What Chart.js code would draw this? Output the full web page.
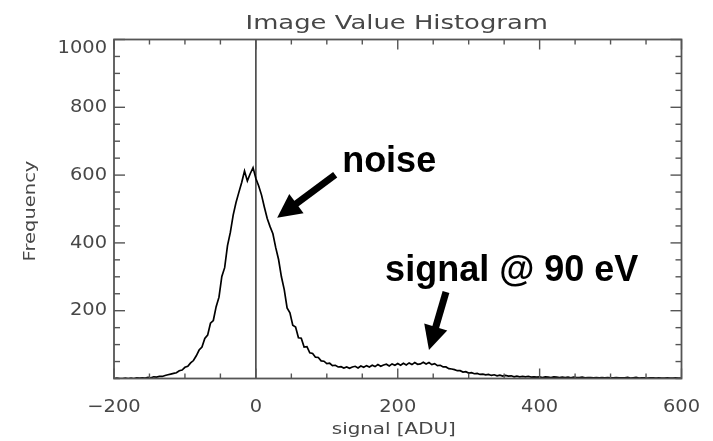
<!DOCTYPE html>
<html>
<head>
<meta charset="utf-8">
<title>Image Value Histogram</title>
<script src="https://cdn.jsdelivr.net/npm/chart.js@4.4.1/dist/chart.umd.min.js"></script>
<style>
  html, body { margin: 0; padding: 0; background: #ffffff; }
  #wrap { width: 713px; height: 441px; }
</style>
</head>
<body>
<div id="wrap"><canvas id="hist" width="713" height="441"></canvas></div>
<script>
// Histogram bins: first bin centre and bin width, in ADU
const binStart = -200;
const binWidth = 4;

// Counts per 4-ADU bin, from -200 to 600 ADU (ten bins per row)
const counts = [
  0, 1, 0, 0, 1, 0, 1, 0, 2, 1,
  2, 1, 3, 2, 5, 4, 6, 6, 9, 11,
  13, 15, 17, 23, 25, 33, 36, 46, 53, 67,
  84, 93, 118, 128, 163, 171, 212, 240, 301, 327,
  392, 431, 482, 519, 549, 578, 612, 583, 604, 622,
  590, 568, 541, 505, 472, 448, 427, 386, 351, 300,
  262, 208, 194, 157, 152, 120, 119, 93, 94, 76,
  74, 63, 62, 52, 51, 44, 45, 38, 39, 34,
  35, 31, 34, 30, 34, 36, 31, 37, 33, 38,
  34, 39, 35, 41, 36, 40, 42, 37, 43, 39,
  44, 39, 45, 40, 46, 41, 47, 42, 43, 48,
  43, 47, 41, 44, 38, 39, 34, 34, 29, 28,
  26, 23, 23, 19, 20, 16, 17, 14, 15, 12,
  13, 11, 12, 9, 11, 8, 10, 7, 9, 7,
  8, 5, 7, 5, 6, 5, 6, 4, 5, 4,
  5, 3, 5, 4, 3, 5, 4, 3, 4, 3,
  4, 2, 4, 3, 3, 4, 2, 3, 3, 2,
  3, 2, 3, 2, 3, 2, 2, 3, 2, 2,
  2, 3, 1, 2, 3, 1, 2, 2, 1, 2,
  2, 1, 2, 1, 1, 2, 1, 1, 2, 1,
  1
];

// Axis ranges and labelled ticks
const xRange = [-200, 600];
const yRange = [0, 1000];
const xTickValues = [-200, 0, 200, 400, 600];
const xTickLabels = ['\u2212200', '0', '200', '400', '600'];
const yTickValues = [200, 400, 600, 800, 1000];
const yTickLabels = ['200', '400', '600', '800', '1000'];
const minorStepX = 50;
const minorStepY = 50;

// Text
const titleText = 'Image Value Histogram';
const xTitle = 'signal [ADU]';
const yTitle = 'Frequency';

// Callouts, placed in data units (ADU, counts)
const callouts = [
  { text: 'noise', at: [121.6, 610], tail: [111.8, 601], tip: [30, 474] },
  { text: 'signal @ 90 eV', at: [182.2, 288], tail: [268, 255], tip: [244, 84] }
];

const points = counts.map((c, i) => ({ x: binStart + i * binWidth, y: c }));

const AXIS = '#555555';
const TEXT = '#474747';
const LABEL_FONT = '"DejaVu Sans", sans-serif';

function drawText(ctx, s, x, y, font, color, align, baseline, sx, rot) {
  ctx.save();
  ctx.translate(x, y);
  if (rot) ctx.rotate(rot);
  ctx.scale(sx, 1);
  ctx.font = font;
  ctx.fillStyle = color;
  ctx.textAlign = align;
  ctx.textBaseline = baseline;
  ctx.fillText(s, 0, 0);
  ctx.restore();
}

function seg(ctx, x1, y1, x2, y2) {
  ctx.beginPath();
  ctx.moveTo(x1, y1);
  ctx.lineTo(x2, y2);
  ctx.stroke();
}

function drawArrow(ctx, x1, y1, x2, y2) {
  const ang = Math.atan2(y2 - y1, x2 - x1);
  const headLen = 24, headHalf = 12;
  const bx = x2 - headLen * Math.cos(ang);
  const by = y2 - headLen * Math.sin(ang);
  ctx.save();
  ctx.strokeStyle = '#000';
  ctx.fillStyle = '#000';
  ctx.lineWidth = 7;
  ctx.lineCap = 'butt';
  seg(ctx, x1, y1, bx + 2 * Math.cos(ang), by + 2 * Math.sin(ang));
  ctx.beginPath();
  ctx.moveTo(x2, y2);
  ctx.lineTo(bx + headHalf * Math.sin(ang), by - headHalf * Math.cos(ang));
  ctx.lineTo(bx - headHalf * Math.sin(ang), by + headHalf * Math.cos(ang));
  ctx.closePath();
  ctx.fill();
  ctx.restore();
}

const framePlugin = {
  id: 'idlFrame',
  beforeDatasetsDraw(chart) {
    const { ctx, chartArea: a, scales: { x } } = chart;
    const x0 = x.getPixelForValue(0);
    ctx.save();
    ctx.strokeStyle = '#444';
    ctx.lineWidth = 1.6;
    seg(ctx, x0, a.top, x0, a.bottom);
    ctx.restore();
  },
  afterDatasetsDraw(chart) {
    const { ctx, chartArea: a, scales: { x, y } } = chart;
    ctx.save();
    ctx.strokeStyle = AXIS;
    ctx.lineWidth = 1.8;
    ctx.strokeRect(a.left, a.top, a.right - a.left, a.bottom - a.top);

    // inward ticks on all four sides
    ctx.lineWidth = 1.4;
    for (let v = xRange[0]; v <= xRange[1]; v += minorStepX) {
      const px = x.getPixelForValue(v);
      const len = xTickValues.includes(v) ? 10 : 5;
      seg(ctx, px, a.bottom, px, a.bottom - len);
      seg(ctx, px, a.top, px, a.top + len);
    }
    for (let v = yRange[0]; v <= yRange[1]; v += minorStepY) {
      const py = y.getPixelForValue(v);
      const len = yTickValues.includes(v) ? 11 : 6;
      seg(ctx, a.left, py, a.left + len, py);
      seg(ctx, a.right, py, a.right - len, py);
    }
    ctx.restore();

    // tick labels
    const tickFont = '18px ' + LABEL_FONT;
    xTickValues.forEach((v, i) => {
      drawText(ctx, xTickLabels[i], x.getPixelForValue(v), a.bottom + 33, tickFont, TEXT, 'center', 'alphabetic', 1.08);
    });
    yTickValues.forEach((v, i) => {
      const py = Math.max(y.getPixelForValue(v), a.top + 9);
      drawText(ctx, yTickLabels[i], a.left - 7, py, tickFont, TEXT, 'right', 'middle', 1.08);
    });

    // titles
    const cx = (a.left + a.right) / 2;
    drawText(ctx, titleText, cx - 1, 29, '19px ' + LABEL_FONT, TEXT, 'center', 'alphabetic', 1.36);
    drawText(ctx, xTitle, cx - 4, 434, '16px ' + LABEL_FONT, TEXT, 'center', 'alphabetic', 1.24);
    ctx.save();
    ctx.translate(35, (a.top + a.bottom) / 2 + 2);
    ctx.rotate(-Math.PI / 2);
    ctx.scale(1.22, 1);
    ctx.font = '16px ' + LABEL_FONT;
    ctx.fillStyle = TEXT;
    ctx.textAlign = 'center';
    ctx.textBaseline = 'alphabetic';
    ctx.fillText(yTitle, 0, 0);
    ctx.restore();

    // callouts
    callouts.forEach(c => {
      drawText(ctx, c.text, x.getPixelForValue(c.at[0]), y.getPixelForValue(c.at[1]),
        'bold 36px "Liberation Sans", Arial, sans-serif', '#000', 'left', 'alphabetic', 1.0);
      drawArrow(ctx, x.getPixelForValue(c.tail[0]), y.getPixelForValue(c.tail[1]),
        x.getPixelForValue(c.tip[0]), y.getPixelForValue(c.tip[1]));
    });
  }
};

new Chart(document.getElementById('hist'), {
  type: 'line',
  data: {
    datasets: [{
      label: 'counts',
      data: points,
      borderColor: '#000000',
      borderWidth: 1.7,
      borderJoinStyle: 'miter',
      pointRadius: 0,
      tension: 0,
      fill: false
    }]
  },
  options: {
    responsive: false,
    animation: false,
    devicePixelRatio: 1,
    layout: { padding: { left: 114, right: 31.5, top: 39.5, bottom: 62.5 } },
    plugins: { legend: { display: false }, title: { display: false }, tooltip: { enabled: false } },
    scales: {
      x: { type: 'linear', min: xRange[0], max: xRange[1], display: false },
      y: { type: 'linear', min: yRange[0], max: yRange[1], display: false }
    }
  },
  plugins: [framePlugin]
});
</script>
</body>
</html>
